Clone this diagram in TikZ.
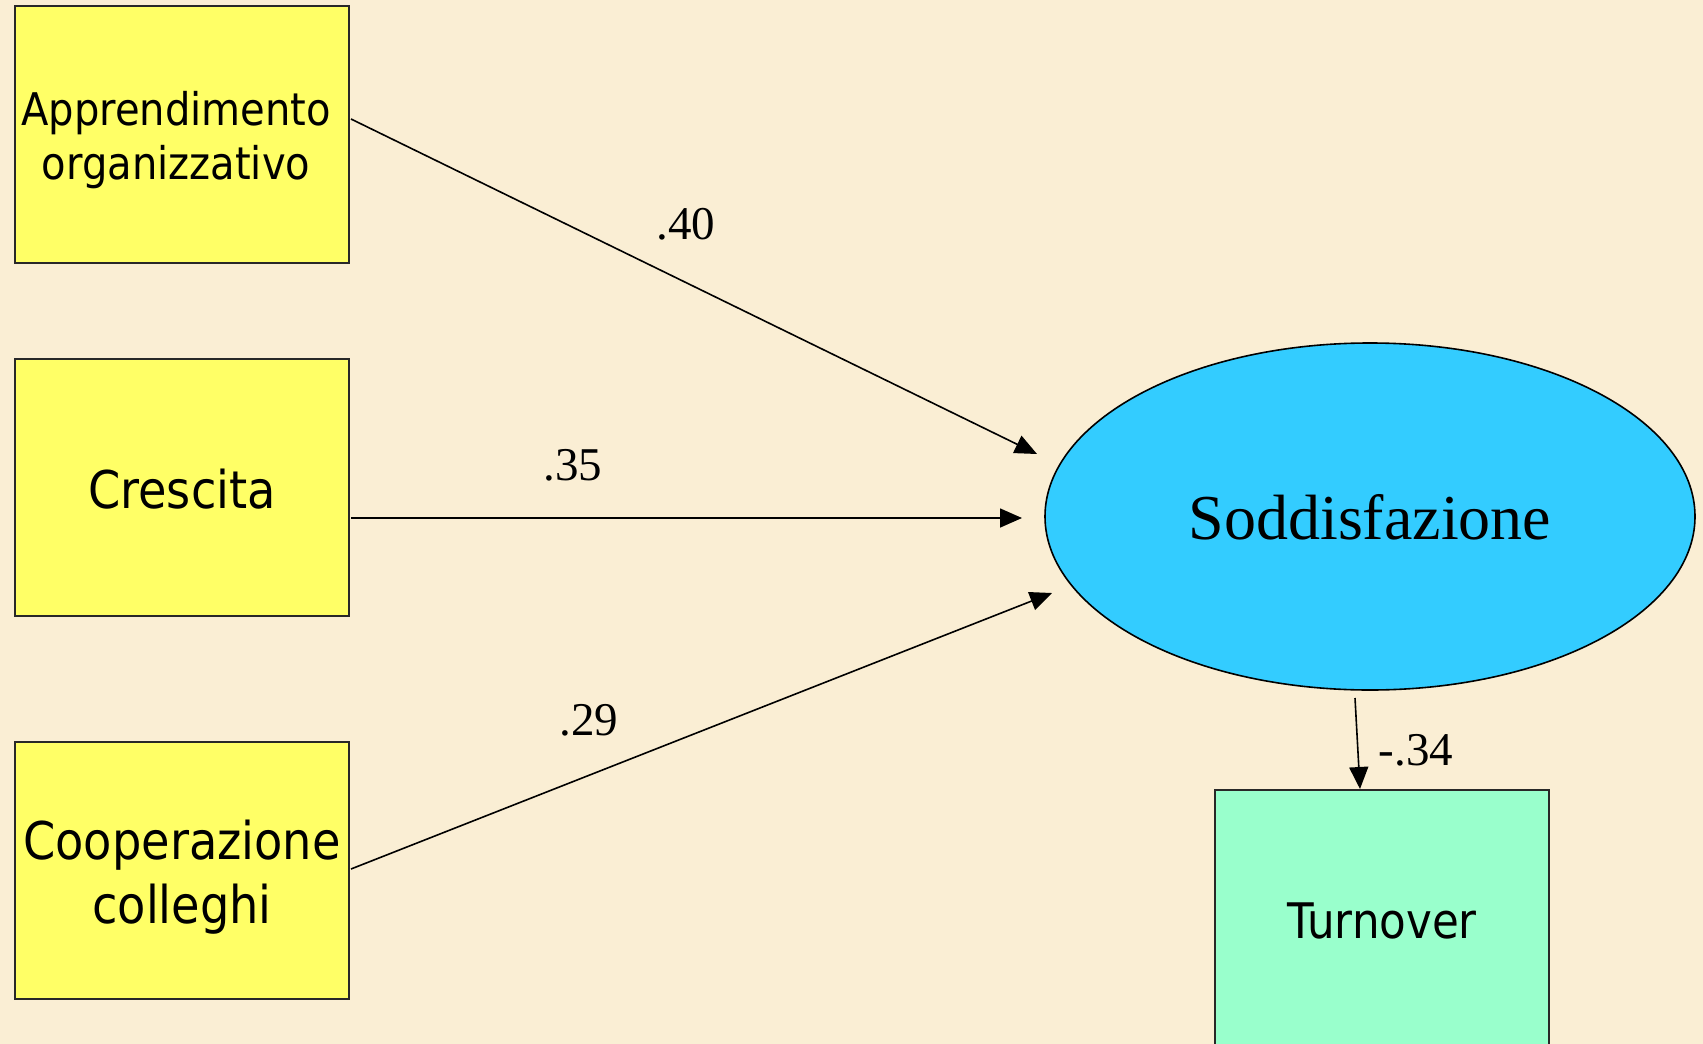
\documentclass[tikz,border=0pt]{standalone}
\usepackage{fontspec}
\setmainfont{Liberation Serif}
\newfontfamily\boxfont[FakeStretch=0.89]{DejaVu Sans}
\usetikzlibrary{shapes.geometric,arrows.meta}
\definecolor{bgpaper}{RGB}{250,238,212}
\definecolor{boxyellow}{RGB}{255,255,102}
\definecolor{ellblue}{RGB}{51,204,255}
\definecolor{boxgreen}{RGB}{153,255,204}
\definecolor{bordergray}{RGB}{40,40,40}
\tikzset{
  varbox/.style={draw=bordergray, line width=2pt, rectangle, minimum width=334pt, minimum height=257pt, inner sep=0pt},
  boxtext/.style={align=center, text=black, inner sep=0pt},
  latent/.style={draw=black, line width=1.6pt, ellipse, fill=ellblue, minimum width=650pt, minimum height=347pt, inner sep=0pt},
  path/.style={line width=1.6pt, -{Triangle[length=22pt,width=19pt]}},
  coef/.style={font=\fontsize{47}{56}\selectfont, inner sep=0pt}
}
\begin{document}
\begin{tikzpicture}[x=1pt,y=-1pt]
\fill[bgpaper] (0,0) rectangle (1703,1044);
\useasboundingbox (0,0) rectangle (1703,1044);
\clip (0,0) rectangle (1703,1044);

\node[varbox, fill=boxyellow] (app) at (182,134.5) {};
\node[boxtext, font=\boxfont\fontsize{45}{54}\selectfont] (appT) at ([yshift=-6pt,xshift=-6pt]app.center) {Apprendimento\\organizzativo};
\node[varbox, fill=boxyellow] (cre) at (182,487) {};
\node[boxtext, font=\boxfont\fontsize{52}{63}\selectfont] (creT) at ([yshift=-2pt]cre.center) {Crescita};
\node[varbox, fill=boxyellow] (coo) at (182,870.5) {};
\node[boxtext, font=\boxfont\fontsize{52}{64}\selectfont] (cooT) at ([yshift=-7pt]coo.center) {Cooperazione\\colleghi};
\node[latent] (sod) at (1370,516.5) {};
\node[boxtext, font=\fontsize{64}{70}\selectfont] (sodT) at ([yshift=-1pt]sod.center) {Soddisfazione};
\node[varbox, fill=boxgreen] (tur) at (1382,918.5) {};
\node[boxtext, font=\boxfont\fontsize{49}{58}\selectfont] (turT) at ([yshift=-2pt]tur.center) {Turnover};

\coordinate (s1) at (351,119);
\coordinate (t1) at (1037,454);
\coordinate (s2) at (351,518);
\coordinate (t2) at (1022,518);
\coordinate (s3) at (351,869);
\coordinate (t3) at (1052,593);
\coordinate (s4) at (1355,698);

\draw[path] (s1) -- (t1);
\draw[path] (s2) -- (t2);
\draw[path] (s3) -- (t3);
\draw[path] (s4) -- (tur.north -| 1360,0);

\node[coef] (c1) at (686,224) {.40};
\node[coef] (c2) at (573,465) {.35};
\node[coef] (c3) at (589,720) {.29};
\node[coef] (c4) at (1416,750) {-.34};
\end{tikzpicture}
\end{document}
